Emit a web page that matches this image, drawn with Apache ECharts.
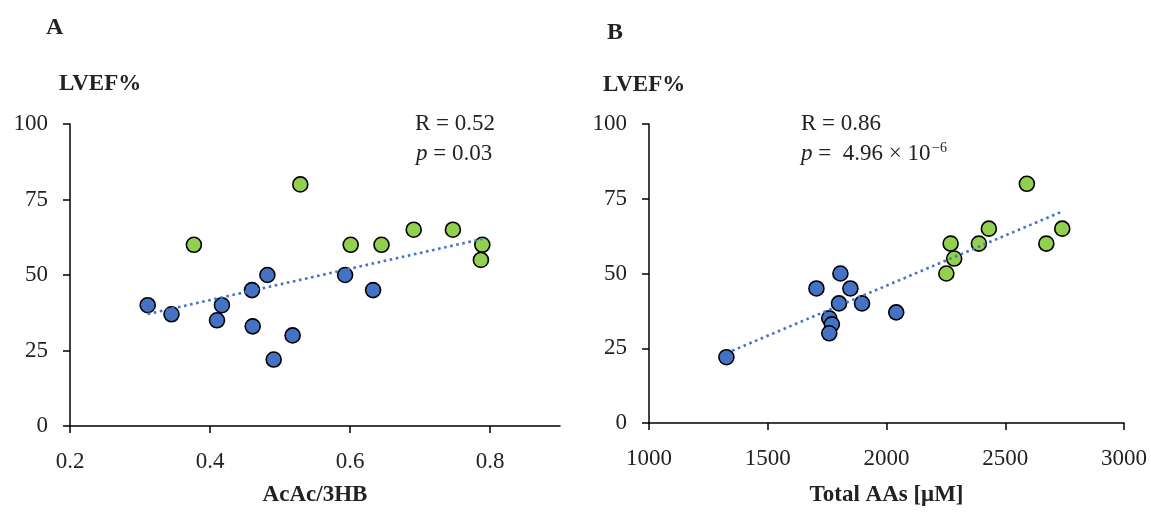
<!DOCTYPE html>
<html>
<head>
<meta charset="utf-8">
<title>LVEF correlations</title>
<script src="https://cdn.jsdelivr.net/npm/echarts@6/dist/echarts.min.js"></script>
<style>
  html, body { margin: 0; padding: 0; background: #ffffff; }
  #chart { width: 1151px; height: 512px; }
</style>
</head>
<body>
<div id="chart"></div>
<script>
// Panel A: AcAc/3HB ratio vs LVEF%
const aBlueRatio = [0.311, 0.345, 0.410, 0.417, 0.460, 0.461, 0.482, 0.491, 0.518, 0.593, 0.633];
const aBlueLvef  = [40, 37, 35, 40, 45, 33, 50, 22, 30, 50, 45];
const aGreenRatio = [0.377, 0.529, 0.601, 0.645, 0.691, 0.747, 0.789, 0.787];
const aGreenLvef  = [60, 80, 60, 60, 65, 65, 60, 55];

// Panel B: total amino acids (µM) vs LVEF%
const bBlueAA   = [1326, 1705, 1806, 1848, 1800, 1897, 2041, 1759, 1770, 1759];
const bBlueLvef = [22, 45, 50, 45, 40, 40, 37, 35, 33, 30];
const bGreenAA   = [2591, 2431, 2740, 2270, 2389, 2673, 2285, 2252];
const bGreenLvef = [80, 65, 65, 60, 60, 60, 55, 50];

// Tick labels
const lvefTicks = [0, 25, 50, 75, 100];
const aXTicks = [0.2, 0.4, 0.6, 0.8];
const bXTicks = [1000, 1500, 2000, 2500, 3000];

const BLUE = '#4472C4';
const GREEN = '#92D050';
const FONT = 'Liberation Serif';

function pairs(xs, ys) { return xs.map((x, i) => [x, ys[i]]); }

// Least-squares trendline across both groups, spanning the data range
function trend(xs, ys) {
  const n = xs.length;
  const mx = xs.reduce((s, v) => s + v, 0) / n;
  const my = ys.reduce((s, v) => s + v, 0) / n;
  let sxy = 0, sxx = 0;
  for (let i = 0; i < n; i++) { sxy += (xs[i] - mx) * (ys[i] - my); sxx += (xs[i] - mx) ** 2; }
  const k = sxy / sxx, b = my - k * mx;
  const x0 = Math.min(...xs), x1 = Math.max(...xs);
  return [[x0, k * x0 + b], [x1, k * x1 + b]];
}

const aTrend = trend(aBlueRatio.concat(aGreenRatio), aBlueLvef.concat(aGreenLvef));
const bTrend = trend(bBlueAA.concat(bGreenAA), bBlueLvef.concat(bGreenLvef));

const axisLine = { show: true, lineStyle: { color: '#000', width: 1.5 } };
const axisTick = { show: true, inside: false, length: 7, lineStyle: { color: '#000', width: 1.5 } };
const labelFont = { fontFamily: FONT, fontSize: 23, color: '#222' };
const nameFont = { fontFamily: FONT, fontSize: 23, fontWeight: 'bold', color: '#222' };

function yAxis(gridIndex) {
  return {
    type: 'value', gridIndex, min: 0, max: 100, interval: 25,
    axisLine, axisTick, splitLine: { show: false },
    axisLabel: Object.assign({ margin: 22, customValues: lvefTicks }, labelFont)
  };
}

function scatter(idx, data, color) {
  return {
    type: 'scatter', xAxisIndex: idx, yAxisIndex: idx, data,
    symbolSize: 15,
    itemStyle: { color, borderColor: '#000', borderWidth: 1.6, opacity: 1 },
    z: 3, silent: true
  };
}

function trendSeries(idx, data) {
  return {
    type: 'line', xAxisIndex: idx, yAxisIndex: idx, data,
    symbol: 'none', silent: true, z: 4,
    lineStyle: { color: BLUE, width: 2.6, type: [2.6, 3.6] }
  };
}

function text(x, y, str, style) {
  return {
    type: 'text', left: x, top: y,
    style: Object.assign({ text: str, fontFamily: FONT, fontSize: 23, fill: '#222',
      textVerticalAlign: 'top' }, style)
  };
}

const italicP = { i: { fontStyle: 'italic', fontFamily: FONT, fontSize: 23, fill: '#222' } };

const chart = echarts.init(document.getElementById('chart'), null, { renderer: 'canvas' });

chart.setOption({
  backgroundColor: '#ffffff',
  animation: false,
  grid: [
    { left: 70, top: 124, width: 490, height: 302 },
    { left: 649, top: 124, width: 475, height: 299 }
  ],
  xAxis: [
    {
      type: 'value', gridIndex: 0, min: 0.2, max: 0.9,
      axisLine, splitLine: { show: false },
      axisTick: Object.assign({ customValues: aXTicks }, axisTick),
      axisLabel: Object.assign({ margin: 24, customValues: aXTicks,
        formatter: v => v.toFixed(1) }, labelFont),
      name: 'AcAc/3HB', nameLocation: 'middle', nameGap: 58, nameTextStyle: nameFont
    },
    {
      type: 'value', gridIndex: 1, min: 1000, max: 3000, interval: 500,
      axisLine, axisTick, splitLine: { show: false },
      axisLabel: Object.assign({ margin: 24, customValues: bXTicks,
        formatter: v => String(v) }, labelFont),
      name: 'Total AAs [μM]', nameLocation: 'middle', nameGap: 61, nameTextStyle: nameFont
    }
  ],
  yAxis: [yAxis(0), yAxis(1)],
  series: [
    scatter(0, pairs(aBlueRatio, aBlueLvef), BLUE),
    scatter(0, pairs(aGreenRatio, aGreenLvef), GREEN),
    trendSeries(0, aTrend),
    scatter(1, pairs(bBlueAA, bBlueLvef), BLUE),
    scatter(1, pairs(bGreenAA, bGreenLvef), GREEN),
    trendSeries(1, bTrend)
  ],
  graphic: [
    text(46, 16, 'A', { fontSize: 24, fontWeight: 'bold' }),
    text(607, 21, 'B', { fontSize: 24, fontWeight: 'bold' }),
    text(59, 73, 'LVEF%', { fontWeight: 'bold' }),
    text(603, 74, 'LVEF%', { fontWeight: 'bold' }),
    text(415, 112, 'R = 0.52'),
    text(416, 142, '{i|p} = 0.03', { rich: italicP }),
    text(801, 112, 'R = 0.86'),
    text(801, 142, '{i|p} =  4.96 × 10', { rich: italicP }),
    // exponent of the p-value, set as a superscript
    text(932, 141, '−6', { fontSize: 14 })
  ]
});
</script>
</body>
</html>
